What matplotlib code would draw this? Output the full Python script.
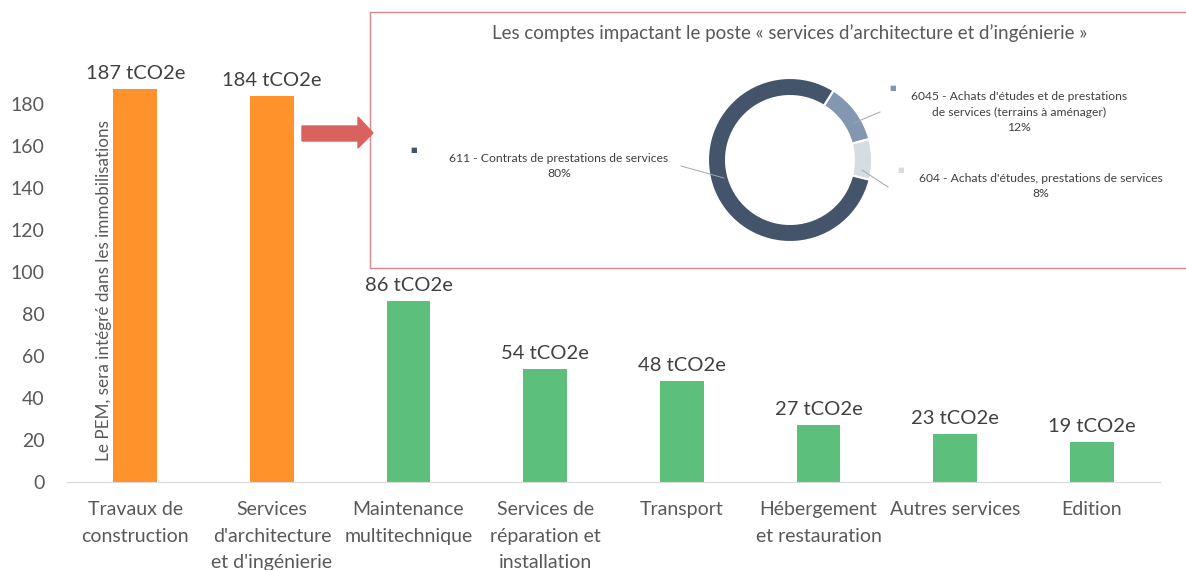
import matplotlib
matplotlib.use("Agg")
import matplotlib.pyplot as plt
from matplotlib.patches import Polygon, Rectangle
from matplotlib.lines import Line2D

plt.rcParams['font.family'] = ['Lato', 'DejaVu Sans']

W, H = 1186, 570

categories = ["Travaux de\nconstruction", "Services\nd'architecture\net d'ingénierie",
              "Maintenance\nmultitechnique", "Services de\nréparation et\ninstallation",
              "Transport", "Hébergement\net restauration", "Autres services", "Edition"]
values = [187, 184, 86, 54, 48, 27, 23, 19]
bar_colors = ["#FF922B", "#FF922B"] + ["#5CBF7B"] * 6

donut_labels = ["6045 - Achats d'études et de prestations\nde services (terrains à aménager)\n12%",
                "604 - Achats d'études, prestations de services\n8%",
                "611 - Contrats de prestations de services\n80%"]
donut_values = [12, 8, 80]
donut_colors = ["#8497B0", "#D6DCE4", "#44546A"]


def px(x, y):
    return x / W, 1 - y / H


fig = plt.figure(figsize=(W / 100, H / 100), dpi=100)
ax = fig.add_axes([67 / W, 88 / H, 1093 / W, 420 / H])

x = range(len(values))
ax.bar(x, values, width=0.32, color=bar_colors, zorder=2)
for i, v in enumerate(values):
    ax.annotate(f"{v} tCO2e", (i, v), xytext=(0, 5), textcoords="offset points",
                ha="center", va="bottom", fontsize=14.5, color="#404040")

ax.set_xlim(-0.5, 7.5)
ax.set_ylim(0, 200)
ax.set_yticks(range(0, 181, 20))
ax.set_xticks(list(x))
ax.set_xticklabels(categories, fontsize=14, color="#595959", linespacing=1.65)
ax.tick_params(axis="y", labelsize=14, colors="#595959", length=0, pad=16)
ax.tick_params(axis="x", length=0, pad=14)
for s in ["top", "right", "left"]:
    ax.spines[s].set_visible(False)
ax.spines["bottom"].set_color("#D9D9D9")

fig.text(*px(104, 291), "Le PEM, sera intégré dans les immobilisations", rotation=90,
         ha="center", va="center", fontsize=12.3, color="#595959")

# red arrow
arrow_px = [(302, 126), (358, 126), (358, 117), (373, 133), (358, 148), (358, 141), (302, 141)]
fig.patches.append(Polygon([px(a, b) for a, b in arrow_px], closed=True,
                           transform=fig.transFigure, color="#D9625F", zorder=5))

# inset box
x0, y0 = px(370, 268)
fig.patches.append(Rectangle((x0, y0), (W + 5 - 370) / W, (268 - 12) / H, transform=fig.transFigure,
                             facecolor="white", edgecolor="#E08585", linewidth=1, zorder=3))
fig.text(*px(790, 33), "Les comptes impactant le poste « services d’architecture et d’ingénierie »",
         ha="center", va="center", fontsize=13.5, color="#595959", zorder=6)

# donut
dax = fig.add_axes([708 / W, (570 - 242) / H, 164 / W, 164 / H], zorder=6)
dax.pie(donut_values, colors=donut_colors, startangle=58, counterclock=False,
        wedgeprops=dict(width=0.22, edgecolor="white", linewidth=1.5))
dax.set_xlim(-1, 1)
dax.set_ylim(-1, 1)
dax.set_aspect("equal")
dax.axis("off")

fs = 8.7
fig.text(*px(1019, 112), donut_labels[0], ha="center", va="center", fontsize=fs,
         color="#404040", linespacing=1.5, zorder=6)
fig.text(*px(1041, 186), donut_labels[1], ha="center", va="center", fontsize=fs,
         color="#404040", linespacing=1.5, zorder=6)
fig.text(*px(559, 166), donut_labels[2], ha="center", va="center", fontsize=fs,
         color="#404040", linespacing=1.5, zorder=6)

for (mx, my), c in zip([(893, 88), (901, 170), (414, 150)], donut_colors):
    fig.text(*px(mx, my), "■", ha="center", va="center", fontsize=5, color=c, zorder=6,
             family="DejaVu Sans")

for pts in [[(681, 166), (724, 178)], [(854, 123), (880, 112)], [(862, 170), (888, 187)]]:
    (ax1, ay1), (ax2, ay2) = px(*pts[0]), px(*pts[1])
    fig.lines.append(Line2D([ax1, ax2], [ay1, ay2], transform=fig.transFigure,
                            color="#A6A6A6", linewidth=0.7, zorder=7))

fig.savefig("out.png", dpi=100)
